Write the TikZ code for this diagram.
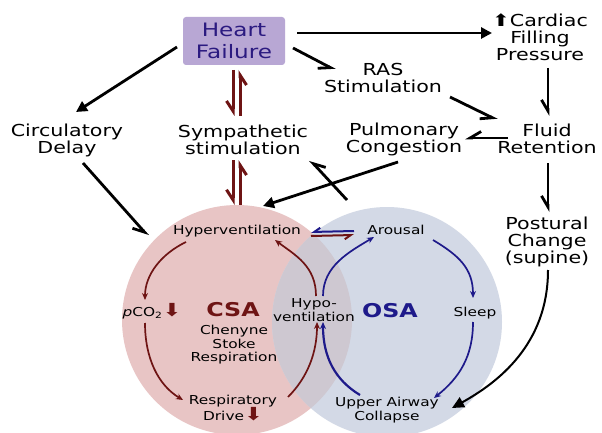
\documentclass[tikz,border=0pt]{standalone}
\usepackage{fontspec}
\setmainfont{DejaVu Sans}[FakeStretch=1.25]
\usetikzlibrary{arrows.meta}

\definecolor{hfbox}{HTML}{B8A7D4}
\definecolor{hftext}{HTML}{2B1A80}
\definecolor{csared}{HTML}{6E1414}
\definecolor{osablue}{HTML}{1E1A8A}
\definecolor{csafill}{HTML}{E8C5C5}
\definecolor{osafill}{HTML}{D3D9E6}
\definecolor{bothfill}{HTML}{CEC8D1}

\newcommand{\dnar}{\textcolor{csared}{\fontsize{18}{15}\selectfont ⬇}}
\newcommand{\upar}{{\fontsize{17}{15}\selectfont ⬆}}

\tikzset{
  lbl/.style={align=center, font=\fontsize{16.5}{17}\selectfont},
  sm/.style={align=center, font=\fontsize{12.3}{13.5}\selectfont},
  big/.style={font=\bfseries\fontsize{19}{20}\selectfont},
  link/.style={line width=2.8pt, -{Triangle[length=11pt,width=11pt]}},
  hlink/.style={line width=2.8pt, -{Straight Barb[harpoon,swap,length=11pt,width=13pt]}},
  redhp/.style={csared, line width=3pt, -{Straight Barb[harpoon,swap,length=10pt,width=13pt]}},
  smhp/.style={line width=2pt, -{Straight Barb[harpoon,swap,length=6pt,width=8pt]}},
  cyc/.style={line width=1.7pt, -{Stealth[length=7pt,width=6pt]}},
}

\begin{document}
\begin{tikzpicture}[x=1pt,y=-1pt]
  \useasboundingbox[fill=white] (0,0) rectangle (602,433);

  % the two circles
  \node[circle, fill=csafill, minimum size=230pt] (csac) at (237,320) {};
  \node[circle, fill=osafill, minimum size=230pt] (osac) at (387,322) {};
  \begin{scope}
    \clip (csac.center) circle (115);
    \fill[bothfill] (osac.center) circle (115);
  \end{scope}

  % top part
  \node[rectangle, rounded corners=3pt, fill=hfbox, text=hftext, minimum width=102pt,
        minimum height=48pt, align=center, font=\fontsize{18.5}{22}\selectfont] (hf) at (234,41) {Heart\\Failure};
  \node[lbl] (cfp) at (540,37) {\upar Cardiac\\Filling\\Pressure};
  \node[lbl] (rasn) at (383,78) {RAS\\Stimulation};
  \node[lbl] (cd) at (67,140) {Circulatory\\Delay};
  \node[lbl] (ss) at (243,140) {Sympathetic\\stimulation};
  \node[lbl] (pc) at (404,139) {Pulmonary\\Congestion};
  \node[lbl] (fr) at (547,139) {Fluid\\Retention};
  \node[lbl] (pcs) at (547,242) {Postural\\Change\\(supine)};

  % inside the circles
  \node[sm] (hyv) at (237,231) {Hyperventilation};
  \node[sm] (aro) at (396,230) {Arousal};
  \node[sm] (pco) at (152,311) {\textit{p}CO\textsubscript{2}\dnar};
  \node[big, csared] (csa) at (233,310) {CSA};
  \node[sm] (csr) at (234,345) {Chenyne\\Stoke\\Respiration};
  \node[sm] (hypo) at (314,310) {Hypo-\\ventilation};
  \node[big, osablue] (osa) at (390,311) {OSA};
  \node[sm] (slp) at (475,313) {Sleep};
  \node[sm] (rd) at (233,408) {Respiratory\\Drive\dnar};
  \node[sm] (uac) at (387,410) {Upper Airway\\Collapse};

  % black links
  \draw[link] ([shift={(-57,6)}]hf.center) -- ([shift={(9,-28)}]cd.center);
  \draw[link] ([shift={(63,-8)}]hf.center) -- ([shift={(-48,-4)}]cfp.center);
  \draw[hlink] ([shift={(59,7)}]hf.center) -- ([shift={(-48,-8)}]rasn.center);
  \draw[hlink] ([shift={(67,19)}]rasn.center) -- ([shift={(-50,-19)}]fr.center);
  \draw[hlink] ([shift={(8,31)}]cfp.center) -- ([shift={(1,-23)}]fr.center);
  \draw[hlink] ([shift={(-39,-1)}]fr.center) -- ([shift={(61,-1)}]pc.center);
  \draw[hlink] ([shift={(1,24)}]fr.center) -- ([shift={(1,-30)}]pcs.center);
  \draw[line width=2pt, -{Triangle[length=12pt,width=11pt]}] ([shift={(1,28)}]pcs.center) .. controls +(0,75) and +(45,-25) .. ([shift={(65,-2)}]uac.center);
  \draw[link] ([shift={(-6,23)}]pc.center) -- ([shift={(26,-25)}]hyv.center);
  \draw[hlink] ([shift={(-49,-30)}]aro.center) -- ([shift={(67,20)}]ss.center);
  \draw[hlink] ([shift={(16,23)}]cd.center) -- ([shift={(-89,5)}]hyv.center);

  % sympathetic pairs
  \draw[redhp] ([shift={(-1,29)}]hf.center) -- ([shift={(-10,-24)}]ss.center);
  \draw[redhp] ([shift={(-3,-24)}]ss.center) -- ([shift={(6,29)}]hf.center);
  \draw[redhp] ([shift={(-10,20)}]ss.center) -- ([shift={(-4,0)}]csac.north);
  \draw[redhp] ([shift={(3,0)}]csac.north) -- ([shift={(-3,20)}]ss.center);

  % hyperventilation / arousal
  \draw[smhp, osablue] ([shift={(-42,1)}]aro.center) -- ([shift={(74,1)}]hyv.center);
  \draw[smhp, csared] ([shift={(74,5)}]hyv.center) -- ([shift={(-42,5)}]aro.center);

  % CSA cycle
  \draw[cyc, csared] ([shift={(-51,11)}]hyv.center) .. controls +(-25,12) and +(0,-25) .. ([shift={(-7,-11)}]pco.center);
  \draw[cyc, csared] ([shift={(-7,12)}]pco.center) .. controls +(0,35) and +(-25,-15) .. ([shift={(-50,-8)}]rd.center);
  \draw[cyc, csared] ([shift={(55,-11)}]rd.center) .. controls +(20,-20) and +(0,30) .. ([shift={(3,12)}]hypo.center);
  \draw[cyc, csared] ([shift={(2,-14)}]hypo.center) .. controls +(0,-30) and +(20,15) .. ([shift={(38,9)}]hyv.center);

  % OSA cycle
  \draw[cyc, osablue] ([shift={(9,-14)}]hypo.center) .. controls +(0,-30) and +(-25,15) .. ([shift={(-22,7)}]aro.center);
  \draw[cyc, osablue] ([shift={(37,10)}]aro.center) .. controls +(25,15) and +(0,-30) .. ([shift={(-2,-15)}]slp.center);
  \draw[cyc, osablue] ([shift={(-2,9)}]slp.center) .. controls +(0,35) and +(25,-20) .. ([shift={(47,-12)}]uac.center);
  \draw[cyc, osablue, line width=2.2pt] ([shift={(-27,-15)}]uac.center) .. controls +(-25,-15) and +(0,35) .. ([shift={(9,12)}]hypo.center);
\end{tikzpicture}
\end{document}
